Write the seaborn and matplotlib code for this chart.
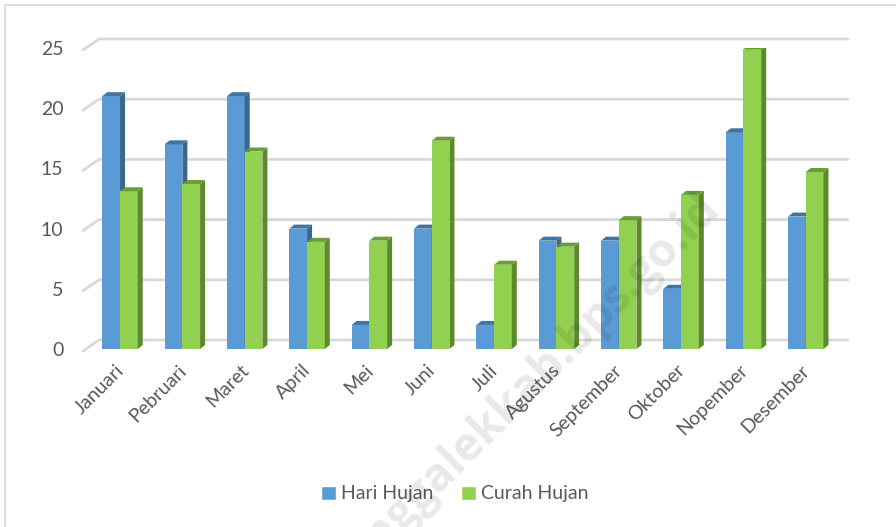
import numpy as np
import pandas as pd
import matplotlib.pyplot as plt
import seaborn as sns
from matplotlib.patches import Polygon, Rectangle, Patch
from matplotlib.transforms import IdentityTransform, ScaledTranslation

# data
bulan = ["Januari", "Pebruari", "Maret", "April", "Mei", "Juni", "Juli",
         "Agustus", "September", "Oktober", "Nopember", "Desember"]
hari_hujan = [21, 17, 21, 10, 2, 10, 2, 9, 9, 5, 18, 11]
curah_hujan = [13.1, 13.7, 16.4, 8.9, 9.0, 17.3, 7.0, 8.5, 10.7, 12.8, 24.9, 14.7]
seri = ["Hari Hujan", "Curah Hujan"]
y_ticks = [0, 5, 10, 15, 20, 25]

df = pd.DataFrame({
    "bulan": bulan * 2,
    "nilai": hari_hujan + curah_hujan,
    "seri": [seri[0]] * len(bulan) + [seri[1]] * len(bulan),
})

# colours: front, side, top
warna = {
    seri[0]: ("#5b9bd5", "#3b6690", "#43739f"),
    seri[1]: ("#92d050", "#5e8a2e", "#6c9c38"),
}
grid_col = "#d9d9d9"
text_col = "#595959"

sns.set_style("white")
plt.rcParams["font.family"] = ["Lato", "DejaVu Sans"]

W, H = 896, 527
fig = plt.figure(figsize=(W / 100, H / 100), dpi=100)
ax = fig.add_axes([83 / W, (H - 349) / H, 749 / W, 301 / H])

sns.barplot(data=df, x="bulan", y="nilai", hue="seri",
            palette=[warna[s][0] for s in seri], width=0.568,
            saturation=1, ax=ax, legend=False, linewidth=0)

ax.set_xlim(-0.594, 11.42)
ax.set_ylim(0, 25)
sns.despine(ax=ax, left=True, bottom=True)
ax.set_xlabel("")
ax.set_ylabel("")
ax.set_yticks(y_ticks)
ax.tick_params(axis="both", length=0, colors=text_col, labelsize=14)
ax.tick_params(axis="y", pad=14)
ax.tick_params(axis="x", pad=9)
shift = ScaledTranslation(-5 / 100, 0, fig.dpi_scale_trans)
for lab in ax.get_xticklabels():
    lab.set_rotation(45)
    lab.set_ha("right")
    lab.set_rotation_mode("anchor")
    lab.set_transform(lab.get_transform() + shift)
ax.grid(False)

fig.canvas.draw()
ident = IdentityTransform()

# back wall gridlines with a little perspective
gdx, gdy = 16, 9
x0, x1 = ax.get_xlim()
for v in y_ticks:
    fx, fy = ax.transData.transform((x0, v))
    rx, _ = ax.transData.transform((x1, v))
    ax.add_line(plt.Line2D([fx, fx + gdx, rx + gdx], [fy - 2, fy + gdy, fy + gdy],
                           transform=ident, color=grid_col, lw=2, zorder=0.5,
                           clip_on=False))

# side and top faces for every bar
bdx, bdy = 5, 4
n = len(bulan)
for i, bar in enumerate(ax.patches):
    s = seri[0] if i < n else seri[1]
    z = 2 if i < n else 3
    bar.set_zorder(z)
    (l, b), (r, t) = ax.transData.transform(
        [(bar.get_x(), bar.get_y()), (bar.get_x() + bar.get_width(), bar.get_y() + bar.get_height())])
    side = Polygon([(r, b), (r + bdx, b + bdy), (r + bdx, t + bdy), (r, t)],
                   closed=True, transform=ident, facecolor=warna[s][1], lw=0, zorder=z)
    top = Polygon([(l, t), (l + bdx, t + bdy), (r + bdx, t + bdy), (r, t)],
                  closed=True, transform=ident, facecolor=warna[s][2], lw=0, zorder=z)
    ax.add_patch(side)
    ax.add_patch(top)

handles = [Patch(facecolor=warna[s][0], label=s) for s in seri]
fig.legend(handles=handles, loc="center", bbox_to_anchor=(455 / W, 1 - 494 / H),
           ncol=2, frameon=False, fontsize=14, labelcolor=text_col,
           handlelength=0.75, handleheight=0.75, handletextpad=0.3, columnspacing=1.4)

# chart border (only left and top visible in the reference)
fig.add_artist(Rectangle((5 / W, -0.1), 1.2, 1.1 - 5 / H, transform=fig.transFigure,
                         fill=False, edgecolor=grid_col, lw=1.2))

# watermark, running off the bottom edge as in the reference
fig.text(722 / W, 1 - 212 / H, "trenggalekkab.bps.go.id", rotation=45,
         rotation_mode="anchor", ha="right", va="baseline", fontsize=33,
         family=["Open Sans", "DejaVu Sans"], fontweight="bold",
         color="black", alpha=0.09, zorder=10)

fig.savefig("out.png", dpi=100)
